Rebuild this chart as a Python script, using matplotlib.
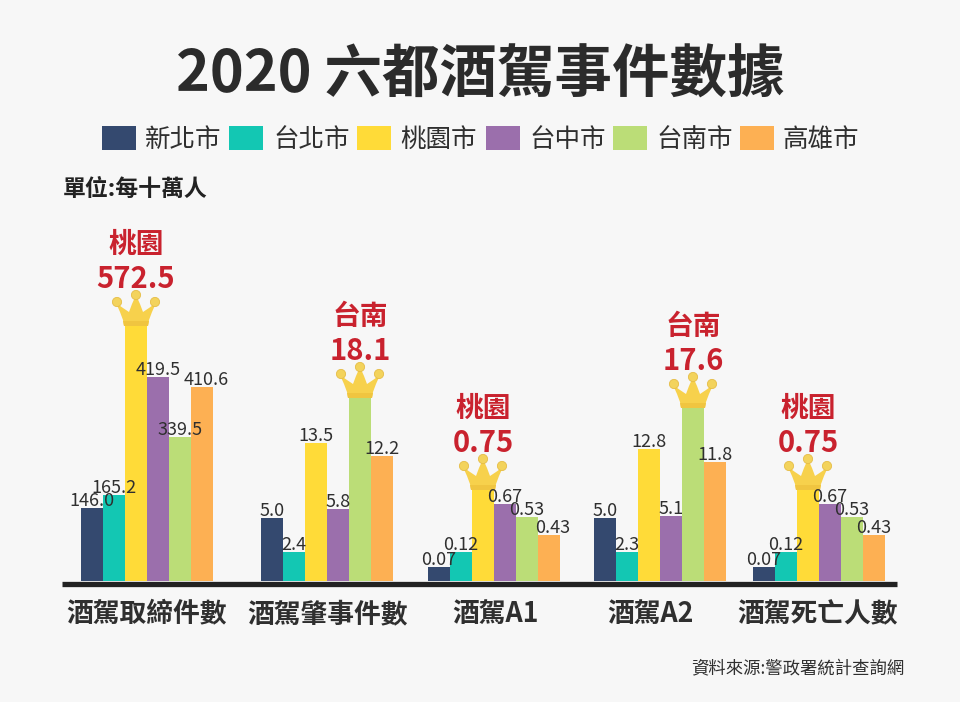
import matplotlib
matplotlib.use("Agg")
import matplotlib.pyplot as plt
from matplotlib.patches import Polygon, Circle, Rectangle

plt.rcParams['font.family'] = ['Noto Sans CJK TC', 'DejaVu Sans']

title = "2020 六都酒駕事件數據"
unit = "單位:每十萬人"
source = "資料來源:警政署統計查詢網"
cities = ["新北市", "台北市", "桃園市", "台中市", "台南市", "高雄市"]
colors = ["#34496F", "#13C7B3", "#FFDB38", "#9B6FAC", "#BBDD77", "#FDB053"]
categories = ["酒駕取締件數", "酒駕肇事件數", "酒駕A1", "酒駕A2", "酒駕死亡人數"]

# printed values
labels_checks = ["146.0", "165.2", "572.5", "419.5", "339.5", "410.6"]
labels_crashes = ["5.0", "2.4", "13.5", "5.8", "18.1", "12.2"]
labels_a1 = ["0.07", "0.12", "0.75", "0.67", "0.53", "0.43"]
labels_a2 = ["5.0", "2.3", "12.8", "5.1", "17.6", "11.8"]
labels_deaths = ["0.07", "0.12", "0.75", "0.67", "0.53", "0.43"]

# bar lengths (the infographic is not drawn to one scale)
heights_checks = [73, 86, 255, 204, 144, 194]
heights_crashes = [63, 29, 138, 72, 183, 125]
heights_a1 = [14, 29, 91, 77, 64, 46]
heights_a2 = [63, 29, 132, 65, 173, 119]
heights_deaths = [14, 29, 91, 77, 64, 46]

winners = ["桃園", "台南", "桃園", "台南", "桃園"]

group_labels = [labels_checks, labels_crashes, labels_a1, labels_a2, labels_deaths]
group_heights = [heights_checks, heights_crashes, heights_a1, heights_a2, heights_deaths]
group_starts = [81, 261, 428, 594, 753]
label_centers = [146.5, 327.5, 496, 651, 818]
winner_idx = [2, 4, 2, 4, 2]
BAR_W = 22
BASE = 581
TXT = "#2f2f2f"
RED = "#C9222E"

fig = plt.figure(figsize=(9.6, 7.02), dpi=100, facecolor="#F7F7F7")
ax = fig.add_axes([0, 0, 1, 1], facecolor="#F7F7F7")
ax.set_xlim(0, 960)
ax.set_ylim(BASE - 702, BASE)


def Y(py):
    return BASE - py


for s in ("top", "left", "right"):
    ax.spines[s].set_visible(False)
sp = ax.spines["bottom"]
sp.set_position(("data", -2.5))
sp.set_bounds(62, 897)
sp.set_linewidth(3.8)
sp.set_capstyle("butt")
sp.set_color("#222222")
ax.set_yticks([])
ax.set_xticks(label_centers)
ax.set_xticklabels(categories, fontsize=19.3, fontweight="bold", color=TXT)
ax.tick_params(axis="x", length=0, pad=12)


def crown(cx, top):
    y0 = top
    pts = [(-12, 0), (-13, 6), (-16, 14), (-20, 23), (-13, 18), (-7, 14), (-4, 22), (0, 31),
           (4, 22), (7, 14), (13, 18), (20, 23), (16, 14), (13, 6), (12, 0)]
    ax.add_patch(Polygon([(cx + a, y0 + b) for a, b in pts], closed=True,
                         facecolor="#F7D14C", edgecolor="none", zorder=5))
    ax.add_patch(Polygon([(cx - 12, y0), (cx + 12, y0), (cx + 13, y0 + 5), (cx - 13, y0 + 5)],
                         closed=True, facecolor="#F0C540", edgecolor="none", zorder=5))
    for dx, dy in [(-19, 24), (0, 31), (19, 24)]:
        ax.add_patch(Circle((cx + dx, y0 + dy), 4.6, facecolor="#F3D35C",
                            edgecolor="#E6BC45", linewidth=0.6, zorder=6))


nudges = {(0, 5): 4, (2, 5): 4}
for g, (x0, hs, labs) in enumerate(zip(group_starts, group_heights, group_labels)):
    xs = [x0 + BAR_W * (i + 0.5) for i in range(6)]
    ax.bar(xs, hs, width=BAR_W, color=colors, linewidth=0, zorder=2)
    w = winner_idx[g]
    for i, (x, h, lab) in enumerate(zip(xs, hs, labs)):
        if i == w:
            continue
        ax.text(x + nudges.get((g, i), 0), h + 2, lab, ha="center", va="baseline",
                fontsize=13, fontweight="medium", color=TXT, zorder=7)
    cx, h = xs[w], hs[w]
    crown(cx, h)
    ax.text(cx, h + 47, labs[w], ha="center", va="center", fontsize=21,
            fontweight="bold", color=RED, zorder=7)
    ax.text(cx, h + 81, winners[g], ha="center", va="center", fontsize=20,
            fontweight="bold", color=RED, zorder=7)

ax.text(480, Y(76), title, ha="center", va="center", fontsize=41.4,
        fontweight="bold", color="#2b2b2b")

swatch_x = [102, 229, 357, 486, 613, 740]
text_x = [145, 273, 400, 529, 656, 783]
for sx, tx, c, name in zip(swatch_x, text_x, colors, cities):
    ax.add_patch(Rectangle((sx, Y(150)), 34, 24, facecolor=c, edgecolor="none"))
    ax.text(tx, Y(140), name, ha="left", va="center", fontsize=18.4, fontweight="medium", color=TXT)

ax.text(63, Y(189), unit, ha="left", va="center", fontsize=16.5, fontweight="bold", color="#222222")
ax.text(904, Y(669), source, ha="right", va="center", fontsize=12.5, fontweight="medium", color=TXT)

fig.savefig("out.png", dpi=100, facecolor=fig.get_facecolor())
